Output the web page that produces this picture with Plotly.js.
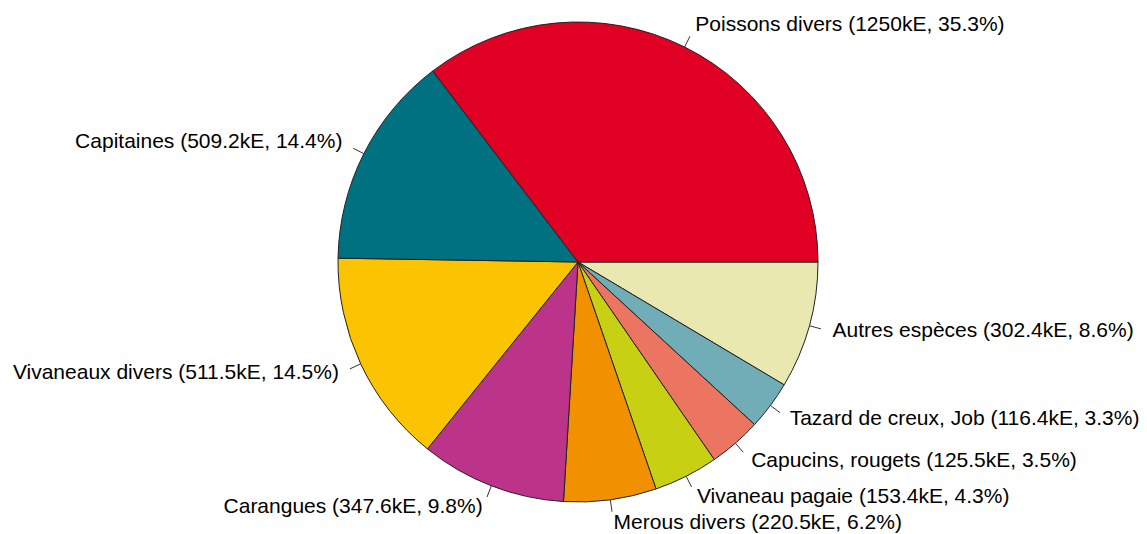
<!DOCTYPE html>
<html>
<head>
<meta charset="utf-8">
<script src="https://cdn.plot.ly/plotly-3.0.1.min.js"></script>
<style>html,body{margin:0;padding:0;background:#fff;}#chart{width:1147px;height:534px;}</style>
</head>
<body>
<div id="chart"></div>
<script>
// Data, in the order drawn counterclockwise from 3 o'clock
var categories = ["Poissons divers", "Capitaines", "Vivaneaux divers", "Carangues", "Merous divers",
                  "Vivaneau pagaie", "Capucins, rougets", "Tazard de creux, Job", "Autres espèces"];
var valuesKE = [1250, 509.2, 511.5, 347.6, 220.5, 153.4, 125.5, 116.4, 302.4];
var valueLabels = ["1250kE", "509.2kE", "511.5kE", "347.6kE", "220.5kE", "153.4kE", "125.5kE", "116.4kE", "302.4kE"];
var percentLabels = ["35.3%", "14.4%", "14.5%", "9.8%", "6.2%", "4.3%", "3.5%", "3.3%", "8.6%"];
var colors = ["#E00024", "#007180", "#FBC300", "#BC338A", "#F29100", "#C8D014", "#EB7561", "#70ADB6", "#E8E8B0"];

var labelsFull = categories.map(function(c, i){ return c + " (" + valueLabels[i] + ", " + percentLabels[i] + ")"; });

// Pie: reversed order drawn clockwise from 3 o'clock == original counterclockwise
var pie = {
  type: 'pie',
  labels: categories.slice().reverse(),
  values: valuesKE.slice().reverse(),
  marker: {colors: colors.slice().reverse(), line: {color: '#222', width: 1}},
  sort: false,
  direction: 'clockwise',
  rotation: 90,
  textinfo: 'none',
  hoverinfo: 'none',
  showlegend: false,
  domain: {x: [338/1147, 818/1147], y: [32/534, 512/534]}
};

// Label positions from slice mid-angles (data units: pie radius = 1)
var total = valuesKE.reduce(function(a, b){ return a + b; }, 0);
var cum = 0, lx = [], ly = [], lpos = [], tickX = [], tickY = [];
valuesKE.forEach(function(v){
  var mid = (cum + v / 2) / total * 2 * Math.PI;
  cum += v;
  var c = Math.cos(mid), s = Math.sin(mid);
  lx.push(1.1 * c); ly.push(1.1 * s);
  lpos.push(c < 0 ? 'middle left' : 'middle right');
  tickX.push(c, 1.05 * c, null); tickY.push(s, 1.05 * s, null);
});

var ticks = {
  type: 'scatter', mode: 'lines', x: tickX, y: tickY,
  line: {color: '#333', width: 1}, hoverinfo: 'none', showlegend: false
};
var texts = {
  type: 'scatter', mode: 'text', x: lx, y: ly, text: labelsFull, textposition: lpos,
  textfont: {family: 'Liberation Sans, Arial, sans-serif', size: 21, color: '#000'},
  hoverinfo: 'none', showlegend: false
};

var layout = {
  width: 1147, height: 534,
  margin: {l: 0, r: 0, t: 0, b: 0},
  paper_bgcolor: '#fff', plot_bgcolor: 'rgba(0,0,0,0)',
  xaxis: {range: [-578/240, (1147-578)/240], visible: false, fixedrange: true},
  yaxis: {range: [-(534-262)/240, 262/240], visible: false, fixedrange: true},
  showlegend: false
};

Plotly.newPlot('chart', [pie, ticks, texts], layout, {staticPlot: true, displayModeBar: false});
</script>
</body>
</html>
